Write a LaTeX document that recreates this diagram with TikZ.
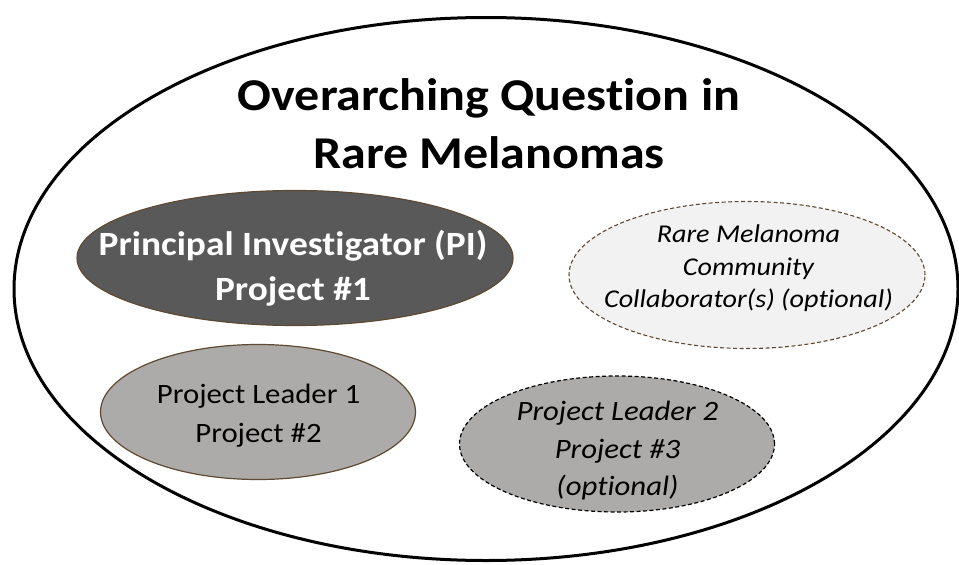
\documentclass[tikz,border=0pt]{standalone}
\usepackage{fontspec}
\setmainfont{Carlito}[FakeStretch=1.1, Ligatures=NoCommon]
\usetikzlibrary{shapes.geometric}
\definecolor{pidark}{HTML}{595959}
\definecolor{plgray}{HTML}{ADAAAA}
\definecolor{collabfill}{HTML}{F2F2F2}
\definecolor{brownline}{HTML}{5E4A33}
\tikzset{
  bub/.style={ellipse, inner sep=0pt},
  pibub/.style={bub, fill=pidark, draw=brownline, line width=1.2pt},
  plonebub/.style={bub, fill=plgray, draw=brownline, line width=1.2pt},
  pltwobub/.style={bub, fill=plgray, draw=black, line width=1.2pt, dash pattern=on 4pt off 2.5pt},
  collabbub/.style={bub, fill=collabfill, draw=brownline, line width=1.1pt, dash pattern=on 4pt off 2.5pt},
  ln/.style={anchor=base, inner sep=0pt},
  titletxt/.style={ln, font=\fontsize{45.5}{50}\selectfont\bfseries},
  pitxt/.style={ln, text=white, font=\fontsize{34}{38}\selectfont\bfseries},
  plonetxt/.style={ln, font=\fontsize{28}{32}\selectfont},
  pltwotxt/.style={ln, font=\fontsize{28}{32}\selectfont\itshape},
  collabtxt/.style={ln, font=\fontsize{25.6}{30}\selectfont\itshape},
}
\begin{document}
\begin{tikzpicture}[x=1pt,y=-1pt]
\useasboundingbox (0,0) rectangle (959,565);
\node[ellipse, draw=black, line width=3pt, minimum width=944pt, minimum height=543pt] (outer) at (486,289) {};
\node[titletxt] (title1) at (489,110) {Overarching Question in};
\node[titletxt] (title2) at (489,168) {Rare Melanomas};
\node[pibub, minimum width=436pt, minimum height=135pt] (pi) at (295,258) {};
\node[pitxt] (pi1) at (293,255) {Principal Investigator (PI)};
\node[pitxt] (pi2) at (293,300) {Project \#1};
\node[collabbub, minimum width=356pt, minimum height=147pt] (collab) at (747,275) {};
\node[collabtxt] (collab1) at (748.5,242) {Rare Melanoma};
\node[collabtxt] (collab2) at (748.5,275) {Community};
\node[collabtxt] (collab3) at (748.5,307) {Collaborator(s) (optional)};
\node[plonebub, minimum width=315pt, minimum height=135pt] (plone) at (258,412) {};
\node[plonetxt] (plone1) at (258.5,403) {Project Leader 1};
\node[plonetxt] (plone2) at (258.5,442) {Project \#2};
\node[pltwobub, minimum width=315pt, minimum height=136pt] (pltwo) at (617,444) {};
\node[pltwotxt] (pltwo1) at (617.5,420) {Project Leader 2};
\node[pltwotxt] (pltwo2) at (617.5,458) {Project \#3};
\node[pltwotxt] (pltwo3) at (617.5,495) {(optional)};
\end{tikzpicture}
\end{document}
